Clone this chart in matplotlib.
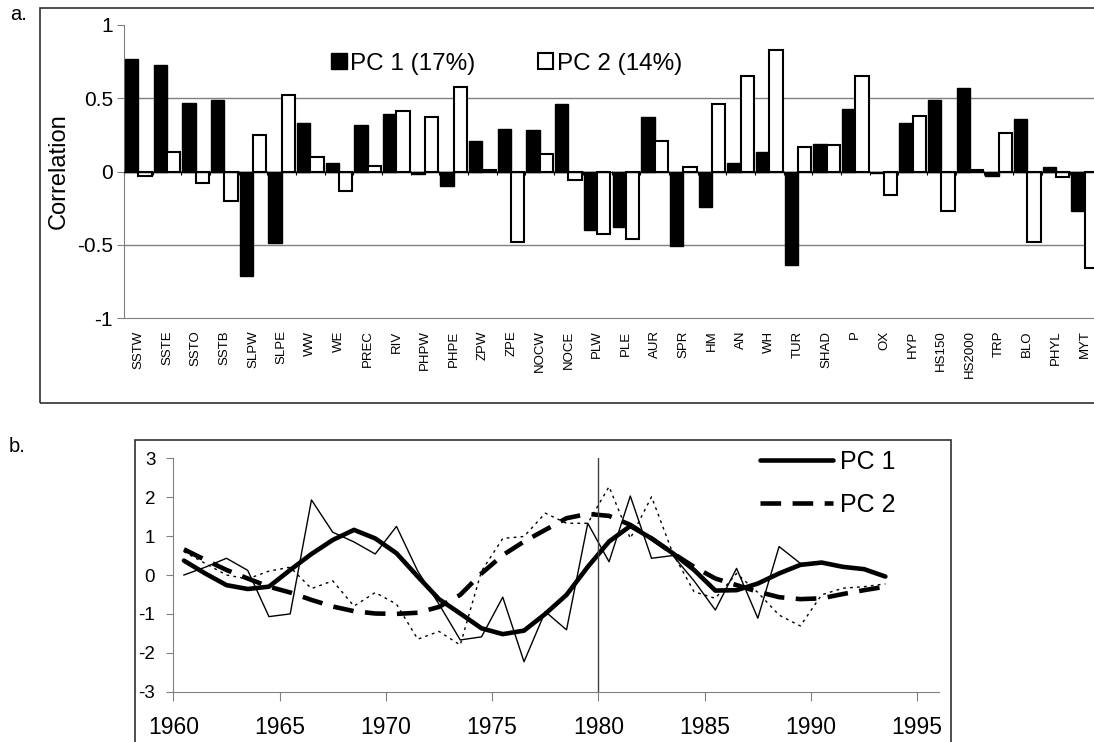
import numpy as np
import matplotlib
matplotlib.use('Agg')
import matplotlib.pyplot as plt
from matplotlib.patches import Rectangle, Patch

plt.rcParams['font.family'] = ['Liberation Sans', 'DejaVu Sans']
plt.rcParams['axes.unicode_minus'] = False

# panel a: correlations of variables with the two PCs
labels = ['SSTW', 'SSTE', 'SSTO', 'SSTB', 'SLPW', 'SLPE', 'WW', 'WE', 'PREC', 'RIV',
          'PHPW', 'PHPE', 'ZPW', 'ZPE', 'NOCW', 'NOCE', 'PLW', 'PLE', 'AUR', 'SPR',
          'HM', 'AN', 'WH', 'TUR', 'SHAD', 'P', 'OX', 'HYP', 'HS150', 'HS2000',
          'TRP', 'BLO', 'PHYL', 'MYT']
pc1_corr = [0.77, 0.73, 0.47, 0.49, -0.71, -0.49, 0.33, 0.06, 0.32, 0.39,
            -0.02, -0.10, 0.21, 0.29, 0.28, 0.46, -0.40, -0.38, 0.37, -0.51,
            -0.24, 0.06, 0.13, -0.64, 0.19, 0.43, -0.01, 0.33, 0.49, 0.57,
            -0.03, 0.36, 0.03, -0.27]
pc2_corr = [-0.03, 0.13, -0.08, -0.20, 0.25, 0.52, 0.10, -0.13, 0.04, 0.41,
            0.37, 0.58, 0.01, -0.48, 0.12, -0.06, -0.43, -0.46, 0.21, 0.03,
            0.46, 0.65, 0.83, 0.17, 0.18, 0.65, -0.16, 0.38, -0.27, 0.01,
            0.26, -0.48, -0.04, -0.66]
legend_a = ['PC 1 (17%)', 'PC 2 (14%)']

# panel b: PC scores (thin = yearly, thick = smoothed)
years = list(range(1960, 1994))
pc1_raw = [0.0, 0.2, 0.43, 0.12, -1.07, -1.0, 1.93, 1.1, 0.85, 0.54,
           1.25, 0.1, -0.75, -1.67, -1.59, -0.57, -2.23, -0.94, -1.41, 1.33,
           0.34, 2.03, 0.43, 0.5, -0.15, -0.9, 0.17, -1.11, 0.73, 0.3,
           0.3, 0.22, 0.15, -0.04]
pc2_raw = [0.6, 0.3, 0.0, -0.1, 0.1, 0.2, -0.35, -0.15, -0.8, -0.45,
           -0.75, -1.65, -1.45, -1.8, 0.1, 0.94, 0.99, 1.59, 1.33, 1.33,
           2.27, 0.94, 2.01, 0.56, -0.43, -0.6, 0.04, -0.45, -1.03, -1.31,
           -0.51, -0.34, -0.3, -0.23]
pc1_smooth = [0.37, 0.04, -0.26, -0.36, -0.3, 0.13, 0.54, 0.9, 1.16, 0.94,
              0.56, -0.04, -0.62, -0.99, -1.37, -1.52, -1.43, -1.0, -0.51, 0.21,
              0.86, 1.26, 0.94, 0.56, 0.13, -0.4, -0.39, -0.22, 0.04, 0.26,
              0.32, 0.21, 0.15, -0.04]
pc2_smooth = [0.66, 0.39, 0.13, -0.09, -0.3, -0.45, -0.64, -0.81, -0.93, -0.99,
              -1.0, -0.97, -0.82, -0.51, 0.04, 0.51, 0.86, 1.16, 1.46, 1.57,
              1.52, 1.29, 0.94, 0.56, 0.21, -0.09, -0.26, -0.43, -0.57, -0.62,
              -0.6, -0.49, -0.39, -0.3]

W, H = 1094, 742


def px_rect(l, t, r, b):
    return [l / W, 1 - b / H, (r - l) / W, (b - t) / H]


fig = plt.figure(figsize=(W / 100, H / 100), dpi=100)
grey = '#808080'

# ---- panel a ----
ax1 = fig.add_axes(px_rect(124, 25, 1099, 318))
x = np.arange(len(labels))
bw = 0.465
ax1.bar(x + 0.5 - bw, pc1_corr, width=bw, align='edge', color='black',
        edgecolor='black', linewidth=1, zorder=3)
ax1.bar(x + 0.5, pc2_corr, width=bw, align='edge', color='white',
        edgecolor='black', linewidth=1.5, zorder=3)
ax1.set_xlim(0, len(labels))
ax1.set_ylim(-1, 1)
for yv in (0.5, -0.5):
    ax1.axhline(yv, color=grey, lw=1, zorder=1)
ax1.axhline(0, color='black', lw=1, zorder=4)

ax1.set_yticks([-1, -0.5, 0, 0.5, 1])
ax1.set_yticklabels(['-1', '-0.5', '0', '0.5', '1'])
ax1.set_xticks(x + 0.5)
ax1.set_xticklabels(labels, rotation=90, fontsize=9.5)
ax1.tick_params(axis='x', length=0, pad=9)
ax1.tick_params(axis='y', direction='out', length=5, pad=3, labelsize=15, color=grey)
for s in ('top', 'right'):
    ax1.spines[s].set_visible(False)
ax1.spines['left'].set_color(grey)
ax1.spines['bottom'].set_color(grey)

# category boundary ticks on the zero line
sec = ax1.secondary_xaxis(0.5)
sec.set_xticks(np.arange(0, len(labels) + 1))
sec.tick_params(direction='in', length=3, labeltop=False, labelbottom=False, color='black')
sec.spines['top'].set_visible(False)
sec.spines['bottom'].set_visible(False)

ax1.set_ylabel('Correlation', fontsize=17)
ax1.yaxis.set_label_coords(-0.056, 0.5)

handles = [Patch(facecolor='black', edgecolor='black'),
           Patch(facecolor='white', edgecolor='black', linewidth=1.5)]
ax1.legend(handles, legend_a, ncol=2, loc='upper left', bbox_to_anchor=(0.2123, 0.905),
           frameon=False, fontsize=17.5, handlelength=0.65, handleheight=0.65,
           handletextpad=0.15, columnspacing=2.55, borderpad=0, borderaxespad=0)

fig.add_artist(Rectangle((40 / W, 1 - 403 / H), 1160 / W, 395 / H, transform=fig.transFigure,
                         fill=False, edgecolor='#303030', linewidth=1.2))
fig.text(10 / W, 1 - 20 / H, 'a.', fontsize=14.5, va='baseline')

# ---- panel b ----
ax2 = fig.add_axes(px_rect(173.3, 458.3, 938.5, 691.7))
yrs = np.array(years) + 0.5
ax2.plot(yrs, pc1_raw, color='black', lw=1.0)
ax2.plot(yrs, pc2_raw, color='black', lw=1.0, linestyle=(0, (2, 3)))
ax2.plot(yrs, pc1_smooth, color='black', lw=3.3, solid_capstyle='round', label='PC 1')
ax2.plot(yrs, pc2_smooth, color='black', lw=3.3, dashes=(4.5, 2.5), label='PC 2')
ax2.axvline(1980, color='#404040', lw=1)
ax2.set_xlim(1960, 1996)
ax2.set_ylim(-3, 3)
ax2.set_xticks(range(1960, 1996, 5))
ax2.set_yticks(range(-3, 4))
ax2.tick_params(axis='x', direction='out', length=6.5, pad=11, labelsize=16.5, color=grey)
ax2.tick_params(axis='y', direction='out', length=5, pad=8, labelsize=13.5, color=grey)
for s in ('top', 'right'):
    ax2.spines[s].set_visible(False)
ax2.spines['left'].set_color(grey)
ax2.spines['bottom'].set_color(grey)
ax2.legend(loc='upper left', bbox_to_anchor=(0.767, 1.036), frameon=False, fontsize=18,
           handlelength=2.9, handletextpad=0.28, labelspacing=0.75, borderpad=0,
           borderaxespad=0)

fig.add_artist(Rectangle((135 / W, 1 - 800 / H), 815.7 / W, 360 / H, transform=fig.transFigure,
                         fill=False, edgecolor='#303030', linewidth=1.2))
fig.text(9 / W, 1 - 452 / H, 'b.', fontsize=14.5, va='baseline')

fig.savefig('out.png', dpi=100)
